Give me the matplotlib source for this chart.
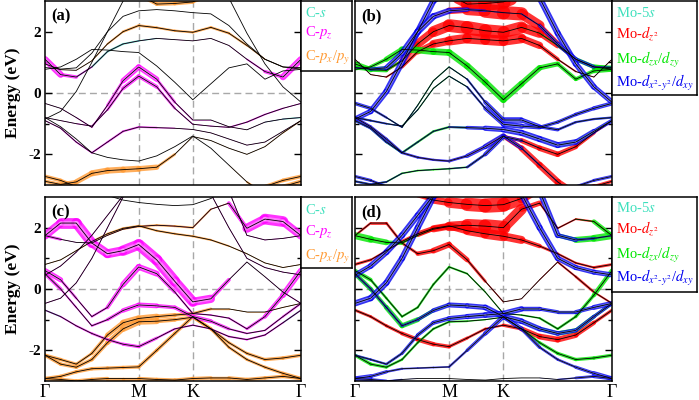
import numpy as np
import matplotlib.pyplot as plt
from matplotlib.collections import LineCollection

plt.rcParams['font.family'] = ['Liberation Serif', 'DejaVu Serif']
plt.rcParams['mathtext.fontset'] = 'stix'
plt.rcParams['axes.unicode_minus'] = False

# k path G-M-K-G (hexagonal), sample points along the path
k_pts = [0.0, 0.0962, 0.1925, 0.2887, 0.3849, 0.4811, 0.5774, 0.6885, 0.7996,
         0.9107, 1.0218, 1.1329, 1.2440, 1.3551, 1.4662, 1.5773]
k_nodes = [0.0, 0.5774, 0.9107, 1.5773]
node_labels = ['Γ', 'M', 'K', 'Γ']

# ---- bands of structure 1 (panels a, b), energies in eV ----
S1 = [-0.85, -0.6, 0.05, 1.0, 2.0, 3.0, 3.4, 3.6, 3.7, 3.7, 3.6, 3.1, 1.95, 0.95, 0.2, -0.3]
T0 = [4.0, 4.0, 3.9, 3.75, 3.55, 3.35, 3.2, 2.9, 2.92, 2.97, 3.2, 3.5, 3.8, 4.0, 4.0, 4.0]
T1 = [0.83, 0.78, 0.82, 1.3, 2.0, 2.5, 2.68, 2.72, 2.68, 2.62, 2.58, 2.2, 1.6, 1.1, 0.85, 0.83]
T2 = [0.95, 0.76, 0.74, 1.05, 1.6, 2.0, 2.2, 2.13, 2.03, 1.98, 2.14, 1.95, 1.55, 1.1, 0.85, 0.78]
T3 = [1.1, 0.6, 0.52, 0.85, 1.35, 1.6, 1.7, 1.78, 1.74, 1.7, 1.78, 1.55, 1.1, 0.7, 0.52, 1.1]
T4 = [0.77, 0.85, 1.1, 1.42, 1.4, 1.35, 1.32, 0.88, 0.35, -0.22, 0.3, 0.82, 0.95, 0.45, 0.72, 0.77]
V1 = [-0.34, -0.5, -0.8, -1.12, -0.4, 0.4, 0.85, 0.45, -0.3, -0.88, -0.88, -1.1, -1.2, -0.95, -0.85, -0.8]
V2 = [-0.8, -0.9, -1.0, -1.08, -0.55, 0.15, 0.55, 0.2, -0.5, -1.02, -1.08, -1.12, -0.95, -0.7, -0.5, -0.34]
V3 = [-0.9, -1.15, -1.6, -1.95, -1.6, -1.25, -1.11, -1.13, -1.15, -1.19, -1.3, -1.5, -1.7, -1.6, -1.25, -0.9]
V4 = [-0.8, -1.1, -1.5, -1.95, -2.1, -2.18, -2.22, -2.05, -1.75, -1.4, -1.8, -2.35, -2.9, -3.3, -3.05, -2.88]
L1 = [-2.88, -2.98, -2.9, -2.62, -2.53, -2.5, -2.47, -2.42, -2.0, -1.42, -1.55, -1.8, -2.0, -1.75, -1.3, -0.9]
L0 = [-2.72, -2.85, -3.05, -3.3, -3.5, -3.6, -3.65, -3.7, -3.7, -3.7, -3.7, -3.6, -3.4, -3.05, -2.85, -2.72]
bands_1 = {'S1': S1, 'T0': T0, 'T1': T1, 'T2': T2, 'T3': T3, 'T4': T4,
           'V1': V1, 'V2': V2, 'V3': V3, 'V4': V4, 'L1': L1, 'L0': L0}

# ---- bands of structure 2 (panels c, d) ----
A1 = [-0.47, -0.3, 0.2, 1.0, 2.0, 3.0, 3.5, 3.7, 3.7, 3.6, 3.5, 3.2, 1.75, 1.6, 1.65, 1.74]
A2 = [0.45, 0.75, 1.2, 1.75, 2.4, 3.05, 3.4, 3.5, 3.5, 3.4, 3.1, 2.0, 1.0, 0.7, 0.55, 0.46]
A3 = [3.6, 3.6, 3.5, 3.3, 3.05, 2.9, 2.82, 2.76, 2.72, 2.75, 2.95, 3.3, 3.6, 3.6, 3.6, 3.6]
P3 = [1.74, 1.62, 1.52, 1.5, 1.75, 1.95, 2.04, 2.08, 2.05, 2.0, 2.6, 2.8, 1.98, 2.28, 2.2, 1.74]
A5 = [0.8, 0.95, 1.25, 1.55, 1.8, 1.98, 2.06, 1.9, 1.8, 1.72, 1.6, 1.4, 1.15, 0.85, 0.7, 0.8]
P1 = [1.74, 2.15, 2.15, 1.5, 1.15, 1.25, 1.45, 0.95, 0.25, -0.42, -0.32, 0.3, 0.88, 0.4, -0.1, -0.47]
PV1 = [0.6, 0.3, -0.3, -0.9, -0.6, 0.15, 0.72, 0.5, -0.1, -0.8, -0.85, -0.95, -1.3, -0.9, -0.2, 0.6]
PV2 = [0.5, 0.0, -0.6, -1.2, -1.0, -0.7, -0.52, -0.55, -0.6, -0.9, -1.05, -1.3, -1.45, -1.35, -0.9, -0.47]
PV3 = [-0.69, -0.9, -1.2, -1.45, -1.65, -1.8, -1.88, -1.6, -1.3, -1.18, -1.3, -1.55, -1.65, -1.5, -1.1, -0.69]
O1 = [-2.16, -2.3, -2.45, -2.1, -1.5, -1.1, -0.96, -0.9, -0.85, -0.8, -0.65, -0.65, -0.75, -0.75, -0.6, -0.47]
O2 = [-2.16, -2.45, -2.55, -2.3, -1.75, -1.3, -1.07, -1.05, -1.0, -0.92, -1.3, -1.75, -2.1, -2.3, -2.25, -2.16]
O3 = [-2.92, -2.85, -2.7, -2.6, -2.58, -2.56, -2.54, -2.0, -1.45, -0.9, -1.3, -1.9, -2.3, -2.55, -2.75, -2.92]
O4 = [-2.92, -2.95, -3.0, -2.95, -2.92, -2.92, -2.92, -2.95, -2.97, -2.92, -2.9, -2.9, -2.95, -2.9, -2.85, -2.92]
bands_2 = {'A1': A1, 'A2': A2, 'A3': A3, 'P3': P3, 'A5': A5, 'P1': P1, 'PV1': PV1,
           'PV2': PV2, 'PV3': PV3, 'O1': O1, 'O2': O2, 'O3': O3, 'O4': O4}

# ---- projected weights (fat bands) ----
# panel (a): C orbitals
a_s = {'T3': [0, 0, 0.1, 0.2, 0.25, 0.25, 0.2, 0.1, 0, 0, 0, 0, 0, 0, 0, 0],
       'V1': [0, 0, 0, 0, 0, 0, 0, 0, 0, 0, 0, 0, 0, 0.05, 0.15, 0.2]}
a_pz = {'T3': [1.1, 0.6, 0.3, 0.1, 0.05, 0.05, 0.05, 0.05, 0.05, 0.05, 0.05, 0.05, 0.1, 0.3, 0.6, 1.1],
        'V1': [0.05, 0.05, 0.1, 0.15, 0.2, 0.5, 0.9, 0.5, 0.2, 0.1, 0.05, 0.05, 0.05, 0.05, 0.05, 0.05],
        'V2': [0.05, 0.05, 0.1, 0.15, 0.2, 0.4, 0.6, 0.4, 0.2, 0.1, 0.1, 0.15, 0.2, 0.2, 0.15, 0.1],
        'V3': [0.1, 0.15, 0.2, 0.2, 0.25, 0.25, 0.25, 0.2, 0.1, 0.05, 0.05, 0.05, 0.05, 0.05, 0.05, 0.05]}
a_pxy = {'L1': [0.4, 0.5, 0.6, 0.8, 0.8, 0.8, 0.8, 0.6, 0.1, 0.05, 0.05, 0.05, 0.05, 0.05, 0.1, 0.2],
         'L0': [0.5, 0.5, 0.4, 0, 0, 0, 0, 0, 0, 0, 0, 0, 0, 0.4, 0.5, 0.5],
         'V4': [0, 0, 0, 0, 0, 0, 0, 0, 0, 0, 0, 0, 0.1, 0.4, 0.5, 0.5],
         'T0': [0, 0, 0, 0, 0, 0.3, 0.4, 0.5, 0.5, 0.5, 0.3, 0, 0, 0, 0, 0],
         'T2': [0.05, 0.05, 0.05, 0.1, 0.2, 0.3, 0.35, 0.3, 0.3, 0.3, 0.35, 0.3, 0.25, 0.1, 0.05, 0.05]}
# panel (b): Mo orbitals
b_s = {'V2': [0.3, 0.2, 0.1, 0, 0, 0, 0, 0, 0, 0, 0, 0, 0, 0, 0.1, 0.2],
       'V1': [0, 0, 0, 0, 0, 0, 0, 0, 0, 0, 0, 0, 0, 0.1, 0.2, 0.3]}
b_dz2 = {'T0': [0, 0, 0, 0, 0, 0.6, 1.3, 2.0, 2.6, 2.6, 2.0, 0.6, 0, 0, 0, 0],
         'T1': [0, 0, 0, 0, 0.1, 0.3, 0.8, 1.6, 2.4, 2.6, 2.2, 1.4, 0.5, 0.1, 0, 0],
         'T2': [0.1, 0.1, 0.3, 0.7, 1.3, 1.8, 2.2, 2.4, 2.4, 2.3, 2.0, 1.4, 0.7, 0.3, 0.1, 0.1],
         'T3': [0.1, 0.1, 0.2, 0.4, 0.8, 1.3, 1.6, 1.8, 1.9, 1.9, 1.6, 1.0, 0.4, 0.2, 0.1, 0.1],
         'V4': [0.3, 0.3, 0.2, 0.2, 0.2, 0.2, 0.2, 0.3, 0.4, 0.7, 1.0, 1.2, 1.2, 1.1, 0.7, 0.5],
         'L1': [0, 0, 0, 0, 0, 0, 0, 0, 0, 0.4, 0.8, 1.0, 1.0, 0.8, 0.5, 0.3]}
b_dzx = {'T4': [0.3, 0.5, 0.8, 1.1, 1.2, 1.2, 1.2, 1.2, 1.2, 1.2, 1.1, 1.0, 0.8, 0.6, 0.8, 0.9],
         'T2': [1.0, 0.9, 0.6, 0.3, 0.1, 0, 0, 0, 0, 0, 0, 0.1, 0.3, 0.6, 0.9, 1.0],
         'T1': [0.8, 0.7, 0.5, 0.1, 0, 0, 0, 0, 0, 0, 0, 0, 0.1, 0.4, 0.6, 0.8],
         'V1': [0.2] * 16,
         'V2': [0.2] * 16,
         'V3': [0.3, 0.4, 0.4, 0.4, 0.4, 0.4, 0.4, 0.3, 0.2, 0.1, 0.3, 0.4, 0.5, 0.5, 0.4, 0.3],
         'L1': [0.3, 0.3, 0.3, 0.3, 0.3, 0.3, 0.3, 0.3, 0.3, 0.1, 0, 0, 0, 0, 0, 0]}
b_dxy = {'S1': [0.9, 1.0, 1.1, 1.1, 1.1, 1.1, 1.1, 1.1, 1.1, 1.1, 1.1, 1.1, 1.1, 1.1, 1.0, 0.9],
         'T1': [0.2, 0.4, 0.8, 1.1, 1.2, 1.2, 1.0, 0.6, 0.3, 0.1, 0.1, 0.4, 0.8, 0.8, 0.5, 0.2],
         'V1': [0.8, 0.5, 0.3, 0.2, 0.1, 0.1, 0.1, 0.2, 0.5, 1.0, 1.0, 0.7, 0.5, 0.4, 0.4, 0.4],
         'V2': [0.4, 0.4, 0.3, 0.2, 0.1, 0.1, 0.1, 0.2, 0.5, 1.0, 0.9, 0.6, 0.6, 0.6, 0.7, 0.8],
         'V3': [0.4, 0.5, 0.4, 0.3, 0.2, 0.2, 0.2, 0.5, 0.8, 1.1, 1.1, 1.1, 1.1, 1.0, 0.8, 0.6],
         'V4': [0.5, 0.5, 0.5, 0.5, 0.4, 0.4, 0.4, 0.6, 0.9, 1.0, 0.3, 0.2, 0.1, 0, 0, 0],
         'L1': [0.4, 0.4, 0.3, 0.1, 0.1, 0.1, 0.1, 0.3, 0.6, 0.9, 0.2, 0, 0, 0, 0, 0],
         'L0': [0.6, 0.5, 0.4, 0, 0, 0, 0, 0, 0, 0, 0, 0, 0, 0.4, 0.5, 0.6]}
# panel (c): C orbitals
c_s = {'PV3': [0.3, 0.1, 0, 0, 0, 0, 0, 0, 0, 0, 0, 0, 0, 0, 0.1, 0.3]}
c_pz = {'P1': [0.8, 1.5, 1.6, 1.3, 1.2, 1.4, 1.6, 1.6, 1.5, 1.4, 1.0, 0.1, 0.05, 0.05, 0.1, 0.2],
        'P3': [0.7, 0.1, 0.05, 0.05, 0.05, 0.05, 0.05, 0.05, 0.05, 0.05, 0.05, 0.1, 1.0, 1.6, 1.5, 0.8],
        'PV1': [1.0, 0.5, 0.2, 0.2, 0.4, 0.7, 1.0, 0.7, 0.3, 0.2, 0.2, 0.2, 0.3, 0.5, 0.7, 1.0],
        'PV2': [0.7, 0.3, 0.2, 0.2, 0.4, 0.5, 0.8, 0.6, 0.5, 0.6, 0.6, 0.3, 0.2, 0.2, 0.3, 0.3],
        'PV3': [0.15, 0.2, 0.25, 0.3, 0.35, 0.4, 0.5, 0.35, 0.25, 0.2, 0.2, 0.25, 0.25, 0.25, 0.2, 0.15],
        'A1': [0.1] * 16,
        'A2': [0.1] * 16}
c_pxy = {'O1': [0.5, 0.5, 0.4, 0.4, 0.6, 0.8, 1.0, 0.7, 0.5, 0.5, 0.3, 0.1, 0.1, 0.1, 0.1, 0.1],
         'O2': [0.5, 0.5, 0.5, 0.5, 0.6, 0.8, 1.0, 0.7, 0.5, 0.5, 0.4, 0.4, 0.4, 0.5, 0.5, 0.5],
         'O3': [0.5, 0.5, 0.5, 0.5, 0.5, 0.5, 0.5, 0.5, 0.5, 0.5, 0.4, 0.4, 0.4, 0.4, 0.5, 0.5],
         'O4': [0.5] * 16,
         'A5': [0.1, 0.1, 0.1, 0.2, 0.3, 0.3, 0.3, 0.3, 0.3, 0.3, 0.3, 0.2, 0.1, 0.1, 0.1, 0.1],
         'P3': [0, 0, 0, 0, 0.1, 0.2, 0.3, 0.3, 0.3, 0.3, 0.2, 0.1, 0, 0, 0, 0]}
# panel (d): Mo orbitals
d_s = {'PV3': [0.4, 0.2, 0.1, 0, 0, 0, 0, 0, 0, 0, 0, 0, 0, 0.1, 0.2, 0.4]}
d_dz2 = {'A3': [0, 0, 0, 0, 0.4, 1.0, 1.6, 2.2, 2.6, 2.6, 2.2, 1.2, 0.3, 0, 0, 0],
         'P3': [0.1, 0.1, 0.1, 0.2, 0.4, 0.9, 1.4, 2.0, 2.5, 2.5, 1.4, 0.5, 0.2, 0.4, 0.3, 0.1],
         'P1': [0.3, 0.5, 0.5, 0.4, 0.6, 1.0, 1.1, 0.7, 0.3, 0.1, 0.1, 0.1, 0.2, 0.5, 0.4, 0.3],
         'A5': [0.6, 0.4, 0.3, 0.4, 0.7, 1.0, 1.2, 1.4, 1.7, 1.9, 1.0, 0.6, 0.4, 0.4, 0.4, 0.6],
         'PV3': [0.5, 0.5, 0.5, 0.6, 0.8, 0.8, 0.6, 0.5, 0.4, 0.4, 0.8, 1.0, 1.1, 1.0, 0.6, 0.5]}
d_dzx = {'P3': [1.3, 1.2, 0.9, 0.5, 0.2, 0, 0, 0, 0, 0, 0, 0, 0, 0, 0.3, 1.3],
         'A1': [0, 0, 0, 0, 0, 0, 0, 0, 0, 0, 0, 0, 0.5, 1.0, 1.2, 1.3],
         'PV1': [0.9, 0.5, 0.4, 0.4, 0.4, 0.4, 0.4, 0.3, 0.2, 0.2, 0.2, 0.4, 0.4, 0.5, 0.7, 0.9],
         'PV2': [0.9, 0.7, 0.8, 1.0, 0.8, 0.5, 0.4, 0.3, 0.2, 0.2, 0.4, 0.6, 0.8, 0.8, 0.6, 0.5],
         'O2': [0.6, 0.6, 0.5, 0.4, 0.4, 0.4, 0.4, 0.3, 0.2, 0.2, 0.4, 0.5, 0.6, 0.6, 0.6, 0.6],
         'O1': [0.25] * 16}
d_dxy = {'A1': [1.1, 1.1, 1.1, 1.1, 1.1, 1.1, 1.1, 1.1, 1.1, 1.1, 1.1, 1.1, 1.0, 0.6, 0.3, 0.2],
         'A2': [0.9, 1.0, 1.1, 1.1, 1.1, 1.1, 1.1, 1.1, 1.1, 1.1, 1.1, 1.1, 1.0, 0.9, 0.9, 0.9],
         'PV2': [0.4, 0.4, 0.4, 0.4, 0.5, 0.7, 0.9, 0.9, 1.0, 1.1, 1.0, 0.9, 0.8, 0.7, 0.6, 0.6],
         'O1': [0.4, 0.4, 0.4, 0.5, 0.6, 0.7, 0.8, 0.9, 1.0, 1.1, 0.9, 0.7, 0.6, 0.6, 0.8, 1.0],
         'O3': [0.9, 0.7, 0.5, 0.3, 0.3, 0.3, 0.3, 0.5, 0.7, 0.9, 0.7, 0.5, 0.4, 0.5, 0.7, 0.9],
         'O4': [0.7, 0.6, 0.4, 0.1, 0, 0, 0, 0, 0, 0, 0, 0, 0.1, 0.4, 0.6, 0.7]}

col_s = '#3ee0bd'
col_pz = '#ff00ff'
col_pxy = '#ff9a33'
col_dz2 = '#ff0000'
col_dzx = '#00e600'
col_dxy = '#0000f0'

leg_c = [('C-$s$', col_s), ('C-$p_z$', col_pz), ('C-$p_x$/$p_y$', col_pxy)]
leg_mo = [('Mo-5$s$', col_s), ('Mo-$d_{z^2}$', col_dz2),
          ('Mo-$d_{zx}$/$d_{zy}$', col_dzx), ('Mo-$d_{x^2\\text{-}y^2}$/$d_{xy}$', col_dxy)]

W = 699.0
H = 400.0
fig = plt.figure(figsize=(6.99, 4.0), dpi=100)


def fat(ax, bands, weights, color, scale, hollow):
    for name, w in weights.items():
        pts = np.column_stack([k_pts, bands[name]])
        segs = np.stack([pts[:-1], pts[1:]], axis=1)
        w = np.asarray(w, dtype=float)
        lw = (w[:-1] + w[1:]) / 2 * scale
        ax.add_collection(LineCollection(segs, linewidths=lw, colors=color,
                                         capstyle='round', joinstyle='round',
                                         alpha=0.8, zorder=2))
        if hollow:
            # open-circle look of the fat bands
            ax.add_collection(LineCollection(segs, linewidths=lw * 0.45, colors='white',
                                             capstyle='round', alpha=0.35, zorder=2))


def panel(rect, bands, projs, scale, label, left_labels, bottom_labels):
    ax = fig.add_axes(rect)
    for weights, color, hollow in projs:
        fat(ax, bands, weights, color, scale, hollow)
    for e in bands.values():
        ax.plot(k_pts, e, color='black', lw=0.6, zorder=3)
    ax.axhline(0, color='#a8a8a8', ls=(0, (5, 3)), lw=1.0, zorder=1)
    for kn in k_nodes[1:3]:
        ax.axvline(kn, color='#a8a8a8', ls=(0, (5, 3)), lw=1.0, zorder=1)
    ax.set_xlim(0, k_nodes[-1])
    ax.set_ylim(-3, 3)
    ax.set_yticks([-2, 0, 2])
    ax.set_yticks([-1, 1], minor=True)
    ax.tick_params(axis='y', which='major', direction='in', length=5, width=1,
                   left=True, right=True, labelsize=11, pad=3)
    ax.tick_params(axis='y', which='minor', direction='in', length=3, width=1,
                   left=True, right=True)
    ax.set_xticks(k_nodes)
    ax.tick_params(axis='x', length=0, labelsize=13, pad=2)
    if bottom_labels:
        ax.set_xticklabels(node_labels)
    else:
        ax.set_xticklabels([])
    if left_labels:
        for t in ax.get_yticklabels():
            t.set_fontweight('bold')
        ax.set_ylabel('Energy (eV)', fontweight='bold', fontsize=12.5)
        ax.yaxis.set_label_coords(-0.095, 0.5)
    else:
        ax.set_yticklabels([])
    for sp in ax.spines.values():
        sp.set_linewidth(1.1)
    ax.text(0.025, 0.915, label, transform=ax.transAxes, fontsize=12,
            fontweight='bold', va='center', zorder=5)
    return ax


def legend_box(x0, y0, x1, y1, entries, ys):
    lax = fig.add_axes([x0 / W, 1 - y1 / H, (x1 - x0) / W, (y1 - y0) / H])
    lax.set_xticks([])
    lax.set_yticks([])
    for sp in lax.spines.values():
        sp.set_linewidth(1.1)
    for (txt, c), yy in zip(entries, ys):
        lax.text(4.0 / (x1 - x0), 1 - (yy - y0) / (y1 - y0), txt, color=c,
                 transform=lax.transAxes, fontsize=10.5, va='center')


proj_a = [(a_s, col_s, False), (a_pxy, col_pxy, False), (a_pz, col_pz, True)]
proj_b = [(b_s, col_s, False), (b_dz2, col_dz2, False), (b_dzx, col_dzx, False),
          (b_dxy, col_dxy, True)]
proj_c = [(c_s, col_s, False), (c_pxy, col_pxy, False), (c_pz, col_pz, True)]
proj_d = [(d_s, col_s, False), (d_dz2, col_dz2, False), (d_dzx, col_dzx, False),
          (d_dxy, col_dxy, True)]

panel([45 / W, 1 - 185 / H, 256 / W, 184 / H], bands_1, proj_a, 5.5, '(a)', True, False)
panel([355 / W, 1 - 185 / H, 257 / W, 184 / H], bands_1, proj_b, 4.0, '(b)', False, False)
panel([45 / W, 1 - 381 / H, 256 / W, 184 / H], bands_2, proj_c, 5.0, '(c)', True, True)
panel([355 / W, 1 - 381 / H, 257 / W, 184 / H], bands_2, proj_d, 4.0, '(d)', False, True)

legend_box(301, 1, 352, 71, leg_c, [13, 33, 58])
legend_box(612, 1, 697, 95, leg_mo, [13, 33, 60, 83])
legend_box(301, 197, 352, 268, leg_c, [210, 232, 257])
legend_box(612, 197, 697, 292, leg_mo, [208, 228, 255, 278])

fig.savefig('out.png', dpi=100)
